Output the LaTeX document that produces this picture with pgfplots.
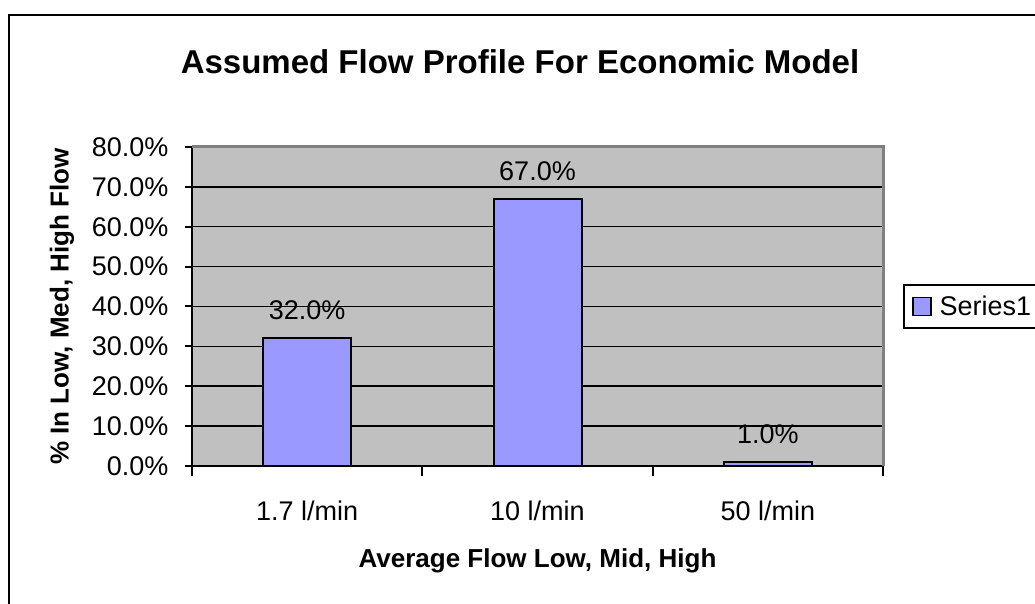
\documentclass[border=0pt]{standalone}
\usepackage{pgfplots}
\pgfplotsset{compat=1.18}
\usepackage{fontspec}
\setmainfont{Liberation Sans}
\definecolor{barblue}{HTML}{9999FF}
\definecolor{plotgray}{HTML}{C0C0C0}
\definecolor{bordergray}{HTML}{808080}
\begin{document}
\begin{tikzpicture}[x=1pt,y=1pt]
\path[use as bounding box] (0,0) rectangle (1035,604);
\draw[line width=2pt] (9,589) rectangle (1070,-30);
\node[font=\fontsize{33}{40}\selectfont\bfseries] at (520,542) {Assumed Flow Profile For Economic Model};
\begin{axis}[
  at={(192pt,138pt)}, anchor=south west,
  scale only axis, width=691pt, height=319pt,
  xmin=0, xmax=3, ymin=0, ymax=80,
  axis x line*=bottom, axis y line*=left,
  axis line style={line width=2pt, -},
  axis background/.style={fill=plotgray},
  /pgf/number format/assume math mode=true,
  ytick={0,10,...,80},
  yticklabel={\pgfmathprintnumber[fixed,fixed zerofill,precision=1]{\tick}\%},
  ymajorgrids, grid style={black, line width=1.5pt},
  xtick={0.5,1.5,2.5}, xticklabels={1.7 l/min, 10 l/min, 50 l/min},
  minor xtick={0,1,2,3},
  tick align=outside,
  major tick length=7pt, minor tick length=10pt,
  tick style={black, line width=2pt},
  major x tick style={draw=none},
  ticklabel style={font=\fontsize{27}{32}\selectfont},
  xticklabel style={yshift=-24pt},
  yticklabel style={xshift=-13pt},
  xlabel={Average Flow Low, Mid, High},
  ylabel={\% In Low, Med, High Flow},
  label style={font=\fontsize{26}{31}\selectfont\bfseries},
  xlabel style={at={(axis description cs:0.5,-0.2978)}, anchor=center},
  ylabel style={at={(axis description cs:-0.1881,0.5)}, anchor=center},
  legend style={at={(axis description cs:1,0.5)}, anchor=west, xshift=20pt,
    draw=black, line width=2pt, font=\fontsize{27}{32}\selectfont,
    inner xsep=8pt, inner ysep=9pt,
    /tikz/every odd column/.append style={column sep=6pt}},
  legend image code/.code={\draw[#1, line width=1.5pt] (0pt,-9pt) rectangle (18pt,9pt);},
  after end axis/.code={\draw[bordergray, line width=3pt] (rel axis cs:0,1) -- (rel axis cs:1,1) -- (rel axis cs:1,0);},
]
\addplot[ybar, bar width=88pt, fill=barblue, draw=black, line width=2pt,
  nodes near coords={\pgfmathprintnumber[fixed,fixed zerofill,precision=1]{\pgfplotspointmeta}\%},
  nodes near coords style={anchor=center, yshift=28pt, font=\fontsize{27}{32}\selectfont, black}]
  coordinates {(0.5,32) (1.5,67) (2.5,1)};
\addlegendentry{Series1}
\end{axis}
\end{tikzpicture}
\end{document}
